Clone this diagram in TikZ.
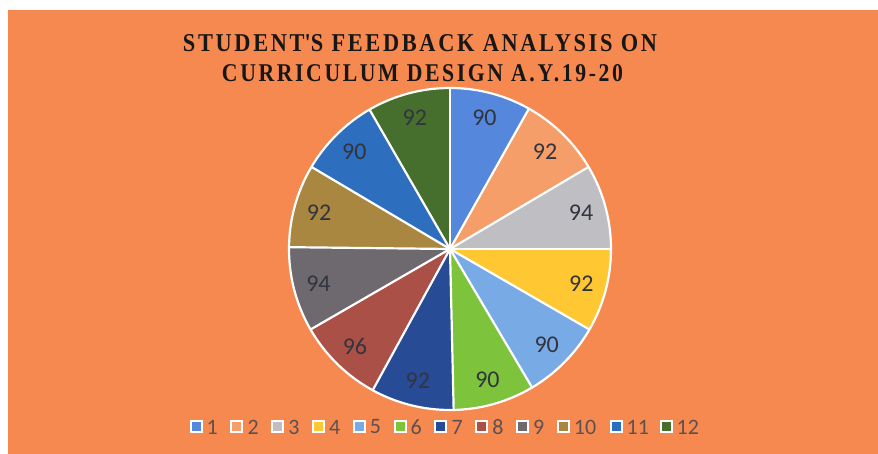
\documentclass[tikz,border=0pt]{standalone}
\usepackage{fontspec}
\setmainfont{Liberation Serif}
\newfontfamily\calib{Carlito}
\usepackage{graphicx}
\definecolor{bgor}{RGB}{245,137,80}
\definecolor{s1}{RGB}{85,135,220}
\definecolor{s2}{RGB}{245,158,105}
\definecolor{s3}{RGB}{190,190,195}
\definecolor{s4}{RGB}{255,200,50}
\definecolor{s5}{RGB}{120,170,230}
\definecolor{s6}{RGB}{125,195,60}
\definecolor{s7}{RGB}{40,75,150}
\definecolor{s8}{RGB}{170,80,70}
\definecolor{s9}{RGB}{110,105,110}
\definecolor{s10}{RGB}{170,135,65}
\definecolor{s11}{RGB}{45,110,190}
\definecolor{s12}{RGB}{70,110,45}
\definecolor{labcol}{RGB}{50,52,62}
\definecolor{legcol}{RGB}{95,80,80}
\definecolor{titcol}{RGB}{25,22,22}
\tikzset{
  lab/.style={font=\calib\fontsize{24}{28}\selectfont, text=labcol, inner sep=0pt},
  legtxt/.style={font=\calib\fontsize{22}{26}\selectfont, text=legcol, inner sep=0pt, anchor=west},
  mk/.style={draw=white, line width=2pt, minimum size=11pt, inner sep=0pt},
  sep/.style={draw=white, line width=2.2pt},
  tit/.style={text=titcol, inner sep=0pt, anchor=base}
}
\begin{document}
\begin{tikzpicture}[x=1pt,y=1pt]
\useasboundingbox (0,0) rectangle (878,454);
\fill[white] (0,0) rectangle (878,454);
\fill[bgor] (8,0) rectangle (878,444);
\node[tit] (t1) at (420,402) {\resizebox{474pt}{17pt}{\addfontfeature{LetterSpace=12}\bfseries STUDENT\textquotesingle S FEEDBACK ANALYSIS ON}};
\node[tit] (t2) at (422.5,372) {\resizebox{401pt}{17pt}{\addfontfeature{LetterSpace=12}\bfseries CURRICULUM DESIGN A.Y.19-20}};
\coordinate (c) at (450,205);
\foreach \a/\b/\col/\v [count=\i] in {0/29.348/s1/90, 29.348/59.348/s2/92, 59.348/90/s3/94, 90/120/s4/92, 120/149.348/s5/90, 149.348/178.696/s6/90, 178.696/208.696/s7/92, 208.696/240/s8/96, 240/270.652/s9/94, 270.652/300.652/s10/92, 300.652/330/s11/90, 330/360/s12/92} {
  \fill[\col] (c) -- ++(90-\a:161) arc[start angle=90-\a, end angle=90-\b, radius=161] -- cycle;
}
\foreach \a in {0,29.348,59.348,90,120,149.348,178.696,208.696,240,270.652,300.652,330} {
  \draw[sep] (c) -- ++(90-\a:161);
}
\draw[sep] (c) circle[radius=161];
\foreach \a/\b/\v [count=\i] in {0/29.348/90, 29.348/59.348/92, 59.348/90/94, 90/120/92, 120/149.348/90, 149.348/178.696/90, 178.696/208.696/92, 208.696/240/96, 240/270.652/94, 270.652/300.652/92, 300.652/330/90, 330/360/92} {
  \path (c) ++({90-(\a+\b)/2}:136) node[lab] (l\i) {\v};
}
\foreach \x/\col/\t [count=\i] in {196/s1/1, 236.8/s2/2, 277.6/s3/3, 318.4/s4/4, 359.2/s5/5, 400/s6/6, 440.8/s7/7, 481.6/s8/8, 522.4/s9/9, 563.2/s10/10, 616/s11/11, 666/s12/12} {
  \node[mk, fill=\col] (m\i) at (\x,27) {};
  \node[legtxt] (g\i) at ([xshift=4pt]m\i.east) {\t};
}
\end{tikzpicture}
\end{document}
